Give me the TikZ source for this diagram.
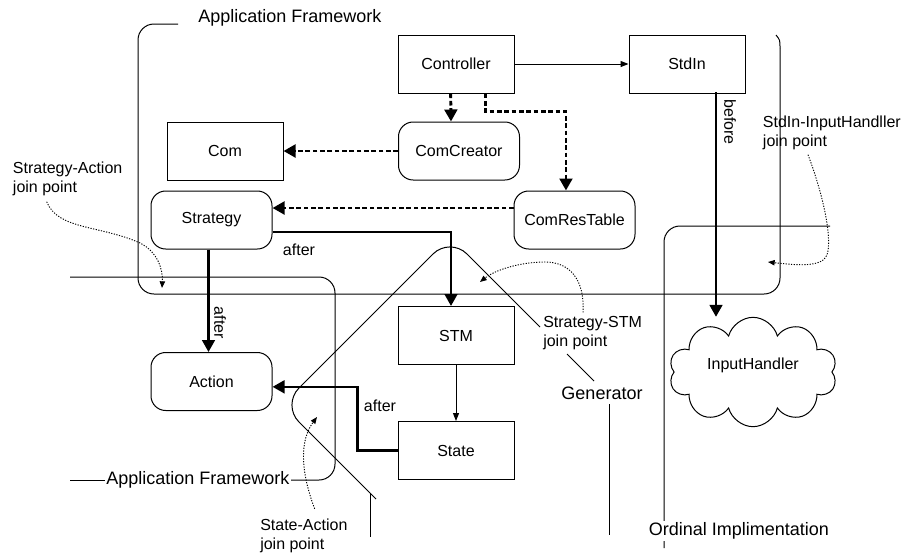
\documentclass[tikz,border=0pt]{standalone}
\usepackage{fontspec}
\setmainfont{Liberation Sans}
\usetikzlibrary{arrows.meta,shapes.symbols}
\tikzset{
  box/.style={draw,line width=0.75pt,minimum width=87pt,minimum height=43.5pt,inner sep=0pt,font=\fontsize{12}{14}\selectfont},
  rbox/.style={box,minimum width=90.75pt,rounded corners=11pt},
  area/.style={line width=0.75pt,rounded corners=12pt},
  lbl/.style={align=left,inner sep=0pt,font=\fontsize{12}{14.25}\selectfont},
  biglbl/.style={inner sep=1pt,font=\fontsize{13.5}{16}\selectfont},
  calls/.style={line width=2.2pt,dash pattern=on 3.5pt off 2pt,-{Triangle[length=9pt,width=9.5pt]}},
  seq/.style={line width=2pt,-{Triangle[length=9pt,width=9.5pt]}},
  flow/.style={line width=0.75pt,-{Triangle[length=6pt,width=4.5pt]}},
  jp/.style={line width=0.7pt,dash pattern=on 0.9pt off 1.1pt,-{Triangle[length=5pt,width=4pt]}}
}
\begin{document}
\begin{tikzpicture}[x=0.75pt,y=-0.75pt]
\useasboundingbox (0,0) rectangle (904,554);

% Rahmen
\node[biglbl] (aftop) at (290,18) {Application Framework};
\draw[area] (178,24) -- (138,24) -- (138,294) -- (780,294) -- (780,48);		% AF oben
\draw[line width=0.75pt] (780,48) .. controls (780,40) .. (776,35);
\node[biglbl] (afbot) at (198,480) {Application Framework};
\draw[area] (afbot.east) -- (335,480) -- (335,277) -- (70,277);				% AF unten
\draw (afbot.west) -- (70,480);
\draw[line width=0.75pt,rounded corners=18pt] (376,499) -- (282,405) -- (450,237) -- (540,327);	% Generator
\draw[line width=0.75pt] (370,493) -- (370,537);
\node[lbl,anchor=west] (ssjp) at (543,333.5) {Strategy-STM\\join point};
\draw[line width=0.75pt] (567,354) -- (594,381);
\node[biglbl] (gen) at (602,393) {Generator};
\draw[line width=0.75pt] (609,404) -- (609,535);
\draw[area] (830,226) -- (664,226) -- (664,548);								% Ordinal
\node[biglbl,fill=white] (ord) at (739,531) {Ordinal Implimentation};

% Klassen
\node[box] (controller) at (456,64) {Controller};
\node[box] (stdin) at (687,64) {StdIn};
\node[rbox] (comcreator) at (459,151) {ComCreator};
\node[box] (com) at (225,151) {Com};
\node[rbox] (strategy) at (211.5,220) {Strategy};
\node[rbox] (comres) at (574.5,220) {ComResTable};
\node[rbox] (action) at (211.5,381.5) {Action};
\node[box] (stm) at (456,335.5) {STM};
\node[box] (state) at (456,450.5) {State};
\node[cloud,draw,line width=0.75pt,cloud puffs=10,aspect=1.6,minimum width=126pt,minimum height=82pt,inner sep=0pt,text depth=12pt,font=\fontsize{12}{14}\selectfont] (handler) at (753,372) {InputHandler};

% Verbindungen
\draw[flow] (controller.east) -- (stdin.west);
\draw[calls] ([xshift=-4pt]controller.south) -- ([xshift=-6pt]comcreator.north);
\draw[calls] ([xshift=22.3pt]controller.south) -- ++(0,18) -| ([xshift=-6.4pt]comres.north);
\draw[calls] (comcreator.west) -- (com.east);
\draw[calls] ([yshift=9pt]comres.west) -- ([yshift=9pt]strategy.east);
\draw[seq] ([yshift=-9pt]strategy.east) -| ([xshift=-3.75pt]stm.north);
\node[lbl] (after1) at (299,250) {after};
\draw[seq] ([xshift=-2.25pt]strategy.south) -- ([xshift=-2.25pt]action.north);
\node[lbl,rotate=-90] (after2) at (220,323) {after};
\draw[flow] (stm.south) -- (state.north);
\draw[seq] (state.west) -- ++(-40,0) |- ([yshift=-4pt]action.east);
\node[lbl] (after3) at (380,406) {after};
\coordinate (hin) at (716,92);
\draw[seq] (hin) -- (hin |- handler.north);
\node[lbl,rotate=-90] (before) at (730,122) {before};

% join points
\node[lbl,anchor=west] (sajp) at (12.7,178.5) {Strategy-Action\\join point};
\node[lbl,anchor=west] (sijp) at (762.7,132.5) {StdIn-InputHandller\\join point};
\node[lbl,anchor=west] (stajp) at (260,536) {State-Action\\join point};
\coordinate (saend) at (162,288);
\coordinate (siend) at (768,262);
\coordinate (ssend) at (480,282);
\coordinate (staend) at (317,417);
\draw[jp] ([xshift=25.5pt,yshift=-4.5pt]sajp.south west) .. controls (58,230) and (100,225) .. (140,243) .. controls (158,252) and (163,270) .. (saend);
\draw[jp] ([xshift=34pt,yshift=-3.75pt]sijp.south west) .. controls (825,200) and (832,240) .. (827,255) .. controls (822,268) and (795,265) .. (siend);
\draw[jp] ([xshift=30pt,yshift=3pt]ssjp.north west) .. controls (585,280) and (570,262) .. (545,262) .. controls (520,262) and (495,270) .. (ssend);
\draw[jp] ([xshift=41pt,yshift=7.5pt]stajp.north west) .. controls (300,470) and (300,440) .. (staend);

\end{tikzpicture}
\end{document}
